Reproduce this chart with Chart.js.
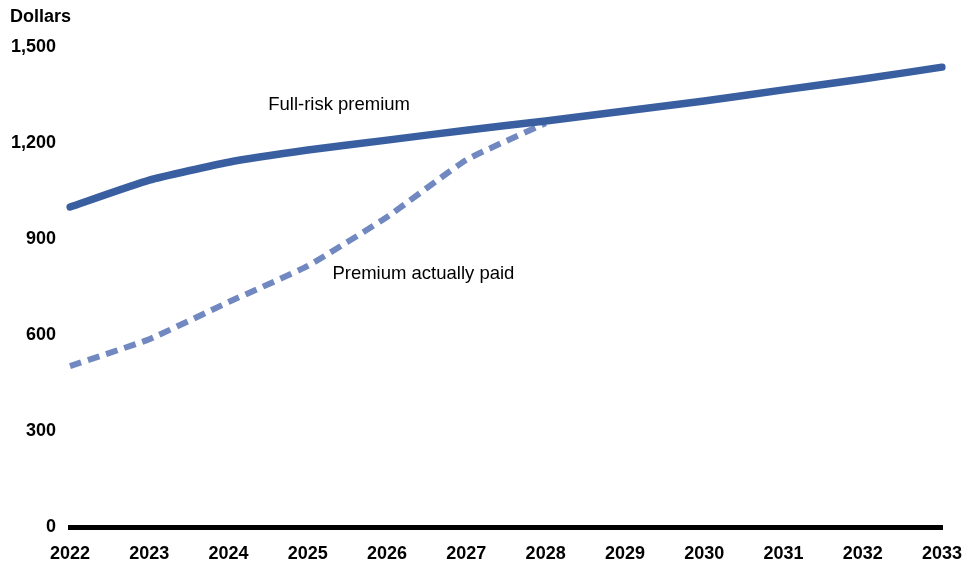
<!DOCTYPE html>
<html>
<head>
<meta charset="utf-8">
<script src="https://cdn.jsdelivr.net/npm/chart.js@4/dist/chart.umd.min.js"></script>
<style>
html,body{margin:0;padding:0;background:#fff;}
#wrap{width:980px;height:568px;}
</style>
</head>
<body>
<div id="wrap"><canvas id="c" width="980" height="568"></canvas></div>
<script>
const years = ['2022','2023','2024','2025','2026','2027','2028','2029','2030','2031','2032','2033'];
const fullRisk = [1000, 1084, 1140, 1178, 1209, 1240, 1269, 1300, 1331, 1366, 1400, 1437];
const actuallyPaid = [503, 587, 703, 816, 969, 1147, 1262, null, null, null, null, null];
const yTicks = [0, 300, 600, 900, 1200, 1500];
const seriesNames = ['Full-risk premium', 'Premium actually paid'];
const unitLabel = 'Dollars';

const FONT = "'Liberation Sans', Arial, sans-serif";

const textPlugin = {
  id: 'texts',
  afterDraw(chart) {
    const ctx = chart.ctx;
    const xs = chart.scales.x, ys = chart.scales.y;
    ctx.save();
    ctx.fillStyle = '#000';
    ctx.font = 'bold 18px ' + FONT;
    ctx.textAlign = 'left';
    ctx.textBaseline = 'middle';
    ctx.fillText(unitLabel, 10, 17);
    ctx.font = '18.5px ' + FONT;
    // annotation anchors (category index, value)
    const anns = [
      {t: seriesNames[0], i: 2.5, v: 1319},
      {t: seriesNames[1], i: 3.31, v: 792}
    ];
    anns.forEach(a => {
      ctx.fillText(a.t, xs.getPixelForValue(a.i), ys.getPixelForValue(a.v));
    });
    ctx.restore();
  }
};

new Chart(document.getElementById('c'), {
  type: 'line',
  data: {
    labels: years,
    datasets: [
      {
        label: seriesNames[0],
        data: fullRisk,
        borderColor: '#3A5FA0',
        borderWidth: 7.5,
        borderCapStyle: 'round',
        borderJoinStyle: 'round',
        pointRadius: 0,
        tension: 0.15,
        fill: false
      },
      {
        label: seriesNames[1],
        data: actuallyPaid,
        borderColor: '#7189C0',
        borderWidth: 6,
        borderDash: [12, 7],
        borderCapStyle: 'butt',
        pointRadius: 0,
        tension: 0.15,
        spanGaps: false,
        fill: false
      }
    ]
  },
  options: {
    responsive: false,
    animation: false,
    devicePixelRatio: 1,
    layout: { padding: { left: 10, right: 38, top: 47, bottom: 0 } },
    plugins: { legend: { display: false }, tooltip: { enabled: false } },
    scales: {
      x: {
        offset: false,
        grid: { display: false, drawTicks: false },
        border: { display: true, color: '#000', width: 5 },
        ticks: { color: '#000', font: { family: FONT, size: 18, weight: 'bold' }, padding: 16, maxRotation: 0, autoSkip: false },
        afterFit(s) { s.height = 41; }
      },
      y: {
        min: 0, max: 1500,
        grid: { display: false, drawTicks: false },
        border: { display: false },
        afterBuildTicks(s) { s.ticks = yTicks.map(v => ({value: v})); },
        ticks: {
          color: '#000', font: { family: FONT, size: 18, weight: 'bold' }, padding: 14,
          callback: v => v.toLocaleString('en-US')
        },
        afterFit(s) { s.width = 60; }
      }
    }
  },
  plugins: [textPlugin]
});
</script>
</body>
</html>
